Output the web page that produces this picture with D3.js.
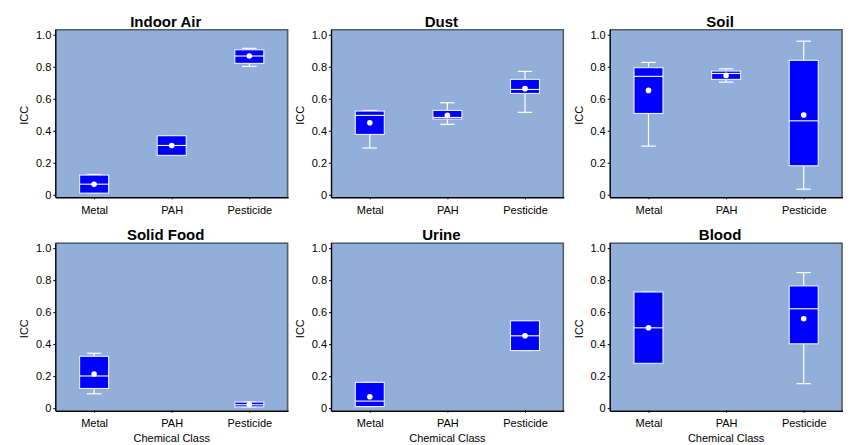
<!DOCTYPE html>
<html>
<head>
<meta charset="utf-8">
<script src="https://cdn.jsdelivr.net/npm/d3@7"></script>
<style>
  html, body { margin: 0; padding: 0; background: #ffffff; }
  svg { display: block; font-family: "Liberation Sans", Arial, Helvetica, sans-serif; }
</style>
</head>
<body>
<svg id="chart" width="852" height="445"></svg>
<script>
// ---- data ----
const panelTitles = ["Indoor Air", "Dust", "Soil", "Solid Food", "Urine", "Blood"];
const categories = ["Metal", "PAH", "Pesticide"];
const yTicks = [0, 0.2, 0.4, 0.6, 0.8, 1.0];
const yTickLabels = ["0", "0.2", "0.4", "0.6", "0.8", "1.0"];
// per panel, per category (null = no data)
const whiskerLow  = [[0.010, 0.246, 0.802], [0.292, 0.440, 0.515], [0.304, 0.704, 0.035], [0.090, null, 0.008], [0.010, null, 0.360], [0.280, null, 0.153]];
const q1          = [[0.010, 0.246, 0.821], [0.377, 0.473, 0.633], [0.508, 0.721, 0.181], [0.123, null, 0.008], [0.010, null, 0.360], [0.280, null, 0.402]];
const median      = [[0.066, 0.308, 0.867], [0.496, 0.483, 0.658], [0.740, 0.758, 0.462], [0.201, null, 0.021], [0.044, null, 0.452], [0.502, null, 0.621]];
const q3          = [[0.123, 0.369, 0.906], [0.523, 0.527, 0.721], [0.794, 0.773, 0.840], [0.324, null, 0.038], [0.161, null, 0.546], [0.726, null, 0.764]];
const whiskerHigh = [[0.127, 0.369, 0.915], [0.527, 0.575, 0.771], [0.827, 0.787, 0.960], [0.343, null, 0.038], [0.161, null, 0.546], [0.726, null, 0.847]];
const meanVal     = [[0.066, 0.308, 0.867], [0.450, 0.496, 0.663], [0.652, 0.746, 0.498], [0.213, null, 0.023], [0.071, null, 0.452], [0.502, null, 0.559]];

// ---- layout ----
const colLeft = [55.3, 331, 609.7];
const rowTop = [29.3, 242.7];
const plotW = 232.8, plotH = 168;
const boxW = 29;

const svg = d3.select("#chart");

panelTitles.forEach((title, p) => {
  const col = p % 3, row = Math.floor(p / 3);
  const g = svg.append("g").attr("transform", `translate(${colLeft[col]},${rowTop[row]})`);

  const x = d3.scalePoint().domain(categories).range([0, plotW]).padding(0.5);
  const y = d3.scaleLinear().domain([-0.016, 1.034]).range([plotH, 0]);

  // background
  g.append("rect").attr("x", 0).attr("y", 0).attr("width", plotW).attr("height", plotH)
    .attr("fill", "#91afd9");
  // top & right frame
  g.append("path").attr("d", `M0,0.5H${plotW - 0.5}V${plotH}`)
    .attr("fill", "none").attr("stroke", "#545d6a").attr("stroke-width", 1.6);

  // axes
  const yAxis = d3.axisLeft(y).tickValues(yTicks)
    .tickFormat((d, i) => yTickLabels[i]).tickSize(2).tickPadding(2).tickSizeOuter(0);
  const ya = g.append("g").call(yAxis);
  ya.select(".domain").attr("stroke", "#000").attr("stroke-width", 1.4);
  ya.selectAll(".tick line").attr("stroke", "#000");
  ya.selectAll(".tick text").attr("font-size", "11px").attr("fill", "#000")
    .attr("font-family", "'Liberation Sans', Arial, sans-serif");

  const xAxis = d3.axisBottom(x).tickSize(2).tickPadding(7).tickSizeOuter(0);
  const xa = g.append("g").attr("transform", `translate(0,${plotH})`).call(xAxis);
  xa.select(".domain").attr("stroke", "#000").attr("stroke-width", 1.4);
  xa.selectAll(".tick line").attr("stroke", "#000");
  xa.selectAll(".tick text").attr("font-size", "11px").attr("fill", "#000")
    .attr("font-family", "'Liberation Sans', Arial, sans-serif");

  // title
  g.append("text").attr("x", plotW / 2 - 6).attr("y", -2.5)
    .attr("text-anchor", "middle").attr("font-size", "15px").attr("font-weight", "bold")
    .attr("fill", "#000").text(title);

  // y label
  g.append("text").attr("transform", `translate(-27,${plotH / 2 + 2}) rotate(-90)`)
    .attr("text-anchor", "middle").attr("font-size", "11px").attr("fill", "#000").text("ICC");

  // x label (bottom row)
  if (row === 1) {
    g.append("text").attr("x", plotW / 2).attr("y", plotH + 31)
      .attr("text-anchor", "middle").attr("font-size", "11px").attr("fill", "#000").text("Chemical Class");
  }

  // boxes
  categories.forEach((c, i) => {
    if (q1[p][i] === null) return;
    const cx = x(c);
    const bg = g.append("g");
    // whiskers
    const wl = whiskerLow[p][i], wh = whiskerHigh[p][i];
    if (wh > q3[p][i] + 0.001) {
      bg.append("line").attr("x1", cx).attr("x2", cx).attr("y1", y(q3[p][i])).attr("y2", y(wh))
        .attr("stroke", "#ffffff").attr("stroke-width", 1.2);
    }
    if (wl < q1[p][i] - 0.001) {
      bg.append("line").attr("x1", cx).attr("x2", cx).attr("y1", y(q1[p][i])).attr("y2", y(wl))
        .attr("stroke", "#ffffff").attr("stroke-width", 1.2);
    }
    [wl, wh].forEach(v => {
      bg.append("line").attr("x1", cx - boxW / 4).attr("x2", cx + boxW / 4)
        .attr("y1", y(v)).attr("y2", y(v))
        .attr("stroke", "#ffffff").attr("stroke-width", 1.2);
    });
    // box
    bg.append("rect").attr("x", cx - boxW / 2).attr("width", boxW)
      .attr("y", y(q3[p][i])).attr("height", Math.max(1, y(q1[p][i]) - y(q3[p][i])))
      .attr("fill", "#0000ff").attr("stroke", "#e8eeff").attr("stroke-width", 1.1);
    // median
    bg.append("line").attr("x1", cx - boxW / 2).attr("x2", cx + boxW / 2)
      .attr("y1", y(median[p][i])).attr("y2", y(median[p][i]))
      .attr("stroke", "#ffffff").attr("stroke-width", 1.1);
    // mean
    bg.append("circle").attr("cx", cx).attr("cy", y(meanVal[p][i])).attr("r", 2.8)
      .attr("fill", "#ffffff");
  });
});
</script>
</body>
</html>
